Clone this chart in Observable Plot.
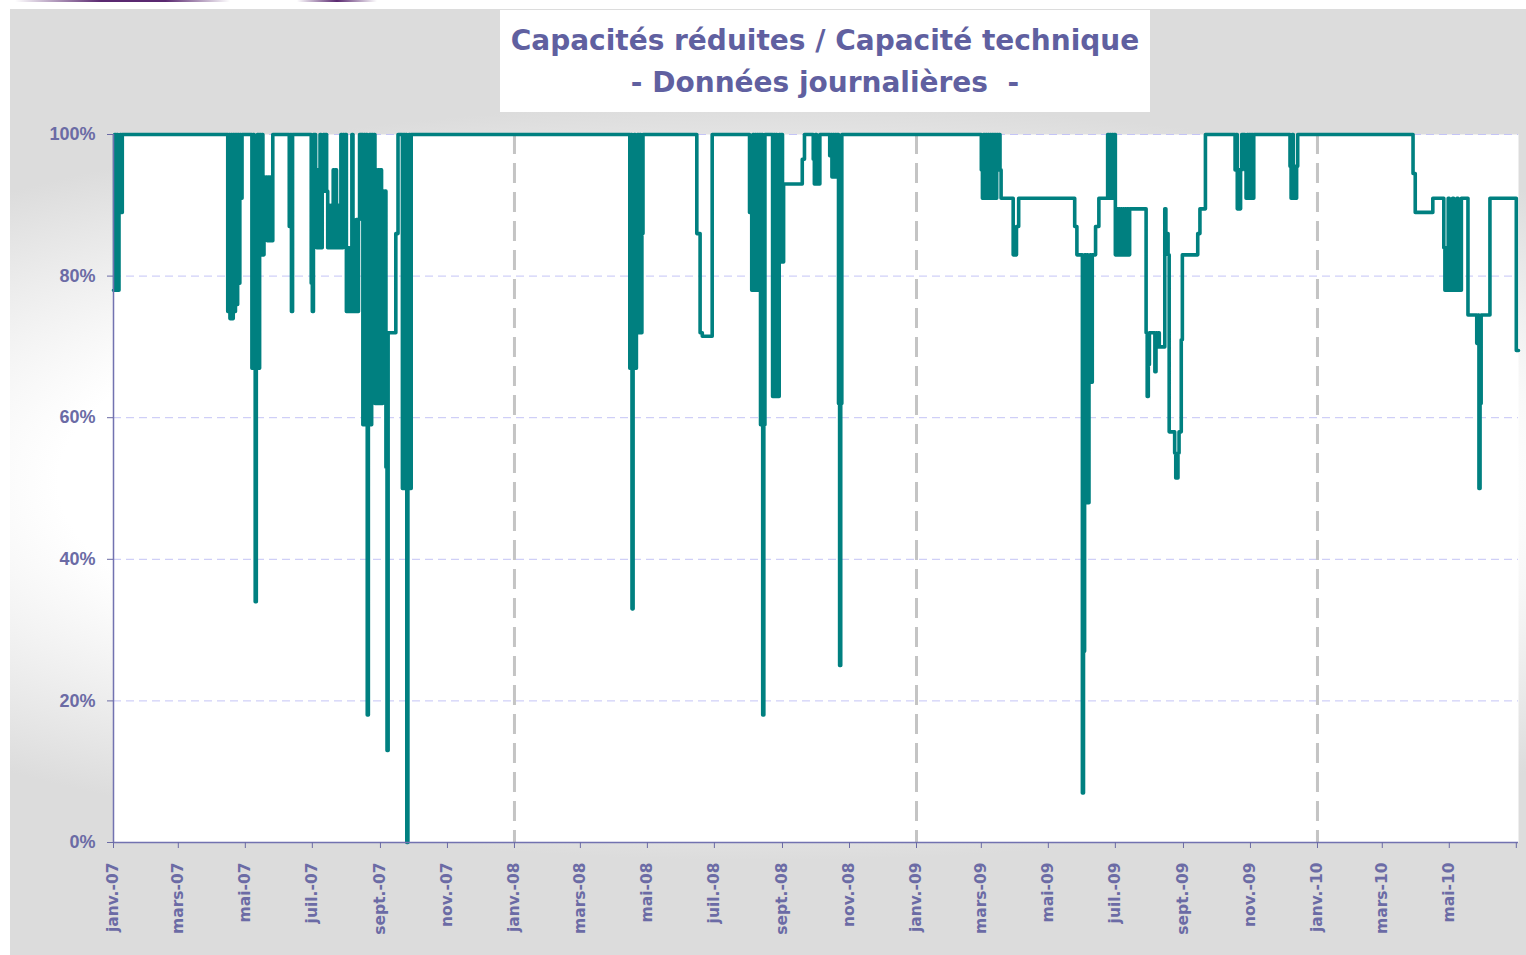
<!DOCTYPE html>
<html>
<head>
<meta charset="utf-8">
<script src="https://cdn.jsdelivr.net/npm/d3@7"></script>
<script src="https://cdn.jsdelivr.net/npm/@observablehq/plot@0.6"></script>
<style>
  html, body { margin: 0; padding: 0; background: #ffffff; width: 1526px; height: 955px; overflow: hidden; }
  #panel { position: absolute; left: 10px; top: 9px; width: 1516px; height: 946px;
    background: radial-gradient(ellipse 78% 40% at 50% 50%, #ffffff 60%, #dcdcdc 100%); }
  #deco1 { position: absolute; left: 15px; top: 0; width: 215px; height: 2px;
    background: linear-gradient(to right, rgba(90,40,110,0), #5a2870 40%, #5a2870 70%, rgba(90,40,110,0)); }
  #deco2 { position: absolute; left: 297px; top: 0; width: 80px; height: 2px;
    background: linear-gradient(to right, rgba(90,40,110,0), #5a2870 50%, rgba(90,40,110,0)); }
  #chart { position: absolute; left: 0; top: 0; }
  #title { position: absolute; left: 500px; top: 10px; width: 650px; height: 102px; background: #ffffff;
    font-family: "DejaVu Sans", sans-serif; font-weight: bold; font-size: 28px; line-height: 42px;
    color: #6060a0; text-align: center; white-space: pre; box-sizing: border-box; padding-top: 10px; }
</style>
</head>
<body>
<div id="panel"></div>
<div id="deco1"></div>
<div id="deco2"></div>
<div id="chart"></div>
<div id="title">Capacités réduites / Capacité technique
- Données journalières  -</div>
<script>
// ---- Data: daily ratio (%) given as change points [date, value]; value holds until next change ----
const changes2007 = [
  ["2007-01-01",78],["2007-01-02",100],["2007-01-03",78],["2007-01-04",100],["2007-01-05",78],["2007-01-06",89],["2007-01-07",100],["2007-01-08",89],["2007-01-09",100],
  ["2007-04-15",75],["2007-04-16",100],["2007-04-17",74],["2007-04-18",100],["2007-04-19",74],["2007-04-20",100],["2007-04-21",75],["2007-04-22",100],["2007-04-23",76],["2007-04-24",100],["2007-04-25",79],["2007-04-26",100],["2007-04-27",91],["2007-04-28",100],
  ["2007-05-07",67],["2007-05-08",100],["2007-05-09",67],["2007-05-10",34],["2007-05-11",67],["2007-05-12",100],["2007-05-13",67],["2007-05-14",100],["2007-05-15",83],["2007-05-16",100],["2007-05-17",83],["2007-05-18",94],["2007-05-19",89],["2007-05-20",94],["2007-05-21",85],["2007-05-22",94],["2007-05-23",85],["2007-05-24",94],["2007-05-25",85],["2007-05-26",100],
  ["2007-06-10",87],["2007-06-11",100],["2007-06-12",75],["2007-06-13",100],
  ["2007-06-30",79],["2007-07-01",75],["2007-07-02",100],
  ["2007-07-04",95],["2007-07-05",84],["2007-07-06",95],["2007-07-07",84],["2007-07-08",100],["2007-07-09",84],["2007-07-10",92],["2007-07-11",100],["2007-07-12",92],["2007-07-13",100],["2007-07-14",92],["2007-07-15",84],["2007-07-16",90],["2007-07-17",84],["2007-07-18",90],["2007-07-19",84],["2007-07-20",95],["2007-07-21",84],["2007-07-22",95],["2007-07-23",84],["2007-07-24",90],["2007-07-25",84],["2007-07-26",90],["2007-07-27",100],["2007-07-28",84],["2007-07-29",100],["2007-07-30",88],["2007-07-31",100],
  ["2007-08-01",75],["2007-08-02",84],["2007-08-03",75],["2007-08-04",84],["2007-08-05",75],["2007-08-06",100],["2007-08-07",75],["2007-08-08",84],["2007-08-09",75],["2007-08-10",88],["2007-08-11",75],["2007-08-12",88],["2007-08-13",100],
  ["2007-08-16",59],["2007-08-17",100],["2007-08-18",59],["2007-08-19",100],["2007-08-20",18],["2007-08-21",59],["2007-08-22",100],["2007-08-23",59],["2007-08-24",100],["2007-08-25",81],["2007-08-26",100],
  ["2007-08-27",62],["2007-08-28",95],["2007-08-29",62],["2007-08-30",95],["2007-08-31",62],["2007-09-01",95],["2007-09-02",62],["2007-09-03",92],
  ["2007-09-04",75],["2007-09-05",92],["2007-09-06",53],["2007-09-07",13],["2007-09-08",72],["2007-09-15",86],["2007-09-17",100],
  ["2007-09-21",50],["2007-09-22",100],["2007-09-23",50],["2007-09-24",100],["2007-09-25",0],["2007-09-26",50],["2007-09-27",100],["2007-09-28",50],["2007-09-29",100]
];
const changes2008 = [
  ["2008-04-15",67],["2008-04-16",100],["2008-04-17",33],["2008-04-18",67],["2008-04-19",100],["2008-04-20",67],["2008-04-21",72],["2008-04-22",100],["2008-04-23",72],["2008-04-24",100],["2008-04-25",72],["2008-04-26",86],["2008-04-27",100],
  ["2008-06-15",86],["2008-06-18",72],["2008-06-20",71.5],["2008-06-29",100],
  ["2008-08-02",89],["2008-08-04",78],["2008-08-05",100],["2008-08-06",78],["2008-08-07",100],["2008-08-08",78],["2008-08-09",100],["2008-08-10",78],["2008-08-11",100],["2008-08-12",59],["2008-08-13",100],["2008-08-14",18],["2008-08-15",59],["2008-08-16",100],
  ["2008-08-23",63],["2008-08-24",100],["2008-08-25",63],["2008-08-26",100],["2008-08-27",63],["2008-08-29",100],["2008-08-30",82],["2008-08-31",100],["2008-09-01",82],["2008-09-02",93],
  ["2008-09-19",96.5],["2008-09-21",100],
  ["2008-09-29",96.5],["2008-09-30",93],["2008-10-01",100],["2008-10-02",93],["2008-10-03",96.5],["2008-10-04",93],["2008-10-05",100],
  ["2008-10-14",97],["2008-10-15",100],["2008-10-16",94],["2008-10-17",100],["2008-10-18",94],["2008-10-19",100],["2008-10-20",94],["2008-10-21",100],["2008-10-22",62],["2008-10-23",25],["2008-10-24",62],["2008-10-25",100]
];
const changes2009 = [
  ["2009-03-01",95],["2009-03-02",91],["2009-03-03",100],["2009-03-04",91],["2009-03-05",100],["2009-03-06",91],["2009-03-07",100],["2009-03-08",91],["2009-03-09",100],["2009-03-10",91],["2009-03-11",100],["2009-03-12",91],["2009-03-13",100],["2009-03-14",91],["2009-03-15",100],["2009-03-16",95],["2009-03-17",100],["2009-03-18",95],["2009-03-19",91],
  ["2009-03-30",83],["2009-04-02",87],["2009-04-04",91],
  ["2009-05-25",87],["2009-05-27",83],
  ["2009-06-01",7],["2009-06-02",27],["2009-06-03",83],["2009-06-04",48],["2009-06-05",83],["2009-06-06",48],["2009-06-07",65],["2009-06-08",83],["2009-06-09",65],["2009-06-10",83],
  ["2009-06-13",87],["2009-06-16",91],
  ["2009-06-24",100],["2009-06-25",91],["2009-06-26",100],["2009-06-27",91],["2009-06-28",100],["2009-06-29",91],["2009-06-30",100],["2009-07-01",83],
  ["2009-07-02",89.5],["2009-07-03",83],["2009-07-04",89.5],["2009-07-05",83],["2009-07-06",89.5],["2009-07-07",83],["2009-07-08",89.5],["2009-07-09",83],["2009-07-10",89.5],["2009-07-11",83],["2009-07-12",89.5],["2009-07-13",83],["2009-07-14",89.5],
  ["2009-07-29",72],["2009-07-30",63],["2009-07-31",67.5],["2009-08-01",72],["2009-08-06",66.5],["2009-08-07",72],["2009-08-08",70],["2009-08-09",72],["2009-08-10",70],
  ["2009-08-15",89.5],["2009-08-16",86],["2009-08-18",83],["2009-08-19",58],["2009-08-24",55],["2009-08-25",51.5],["2009-08-27",55],["2009-08-28",58],["2009-08-30",71],["2009-08-31",83],
  ["2009-09-14",86],["2009-09-16",89.5],["2009-09-21",100],
  ["2009-10-18",95],["2009-10-19",100],["2009-10-20",89.5],["2009-10-21",95],["2009-10-22",89.5],["2009-10-23",95],["2009-10-24",100],
  ["2009-10-27",95],["2009-10-28",91],["2009-10-29",100],["2009-10-30",91],["2009-10-31",100],["2009-11-01",91],["2009-11-02",100],["2009-11-03",91],["2009-11-04",100],
  ["2009-12-07",95.5],["2009-12-08",91],["2009-12-09",100],["2009-12-10",91],["2009-12-11",95.5],["2009-12-12",91],["2009-12-13",95.5],["2009-12-14",100]
];
const changes2010 = [
  ["2010-03-29",94.5],["2010-03-31",89],["2010-04-16",91],
  ["2010-04-26",84],["2010-04-27",78],["2010-04-28",84],["2010-04-29",78],["2010-04-30",91],["2010-05-01",78],["2010-05-02",84],["2010-05-03",78],["2010-05-04",91],["2010-05-05",78],["2010-05-06",84],["2010-05-07",78],["2010-05-08",91],["2010-05-09",78],["2010-05-10",84],["2010-05-11",78],["2010-05-12",91],
  ["2010-05-18",74.5],["2010-05-26",70.5],["2010-05-27",74.5],["2010-05-28",50],["2010-05-29",62],["2010-05-30",74.5],
  ["2010-06-07",91],["2010-07-01",69.5],["2010-07-03",69.5]
];

// ---- Axes ----
const xDomain = ["2007-01-01", "2010-07-03"];
const tickDates = ["2007-01-01","2007-03-01","2007-05-01","2007-07-01","2007-09-01","2007-11-01",
  "2008-01-01","2008-03-01","2008-05-01","2008-07-01","2008-09-01","2008-11-01",
  "2009-01-01","2009-03-01","2009-05-01","2009-07-01","2009-09-01","2009-11-01",
  "2010-01-01","2010-03-01","2010-05-01","2010-07-01"];
const tickLabels = ["janv.-07","mars-07","mai-07","juil.-07","sept.-07","nov.-07",
  "janv.-08","mars-08","mai-08","juil.-08","sept.-08","nov.-08",
  "janv.-09","mars-09","mai-09","juil.-09","sept.-09","nov.-09",
  "janv.-10","mars-10","mai-10",""];
const yearLines = ["2008-01-01","2009-01-01","2010-01-01"];
const yTicks = [0, 20, 40, 60, 80, 100];

// ---- Build ----
const data = [...changes2007, ...changes2008, ...changes2009, ...changes2010]
  .map(([d, v]) => ({date: new Date(d), value: v}));
const ticks = tickDates.map(d => new Date(d));
const labelMap = new Map(ticks.map((d, i) => [+d, tickLabels[i]]));
const axisColor = "#7272b0";
const textColor = "#6b6ba5";

const chart = Plot.plot({
  width: 1526,
  height: 955,
  marginLeft: 113,
  marginRight: 8,
  marginTop: 134,
  marginBottom: 113,
  style: {background: "transparent", overflow: "visible"},
  x: {type: "utc", domain: xDomain.map(d => new Date(d)), axis: null},
  y: {domain: [0, 100], axis: null},
  marks: [
    Plot.frame({fill: "white", stroke: "none"}),
    Plot.ruleY(yTicks.filter(d => d > 0), {stroke: "#c4c4f6", strokeWidth: 1, strokeDasharray: "8,5"}),
    Plot.ruleX(yearLines.map(d => new Date(d)), {stroke: "#c4c4c4", strokeWidth: 3, strokeDasharray: "20,9"}),
    Plot.line(data, {x: "date", y: "value", curve: "step-after", stroke: "#008080", strokeWidth: 3.6}),
    Plot.ruleY([0], {stroke: axisColor, strokeWidth: 1.5}),
    Plot.ruleX([new Date(xDomain[0])], {stroke: axisColor, strokeWidth: 1.5}),
    Plot.axisY({ticks: yTicks, tickFormat: d => d + "%", tickSize: 6, tickPadding: 12, label: null,
      color: textColor, fontSize: 18, fontFamily: "Liberation Sans, Arial, sans-serif", fontWeight: "bold"}),
    Plot.axisX({ticks: ticks, tickFormat: d => labelMap.get(+d), tickSize: 6, tickPadding: 14, tickRotate: -90,
      label: null, color: textColor, fontSize: 15.5, fontFamily: "DejaVu Sans, sans-serif", fontWeight: "bold"})
  ]
});
document.getElementById("chart").appendChild(chart);
</script>
</body>
</html>
